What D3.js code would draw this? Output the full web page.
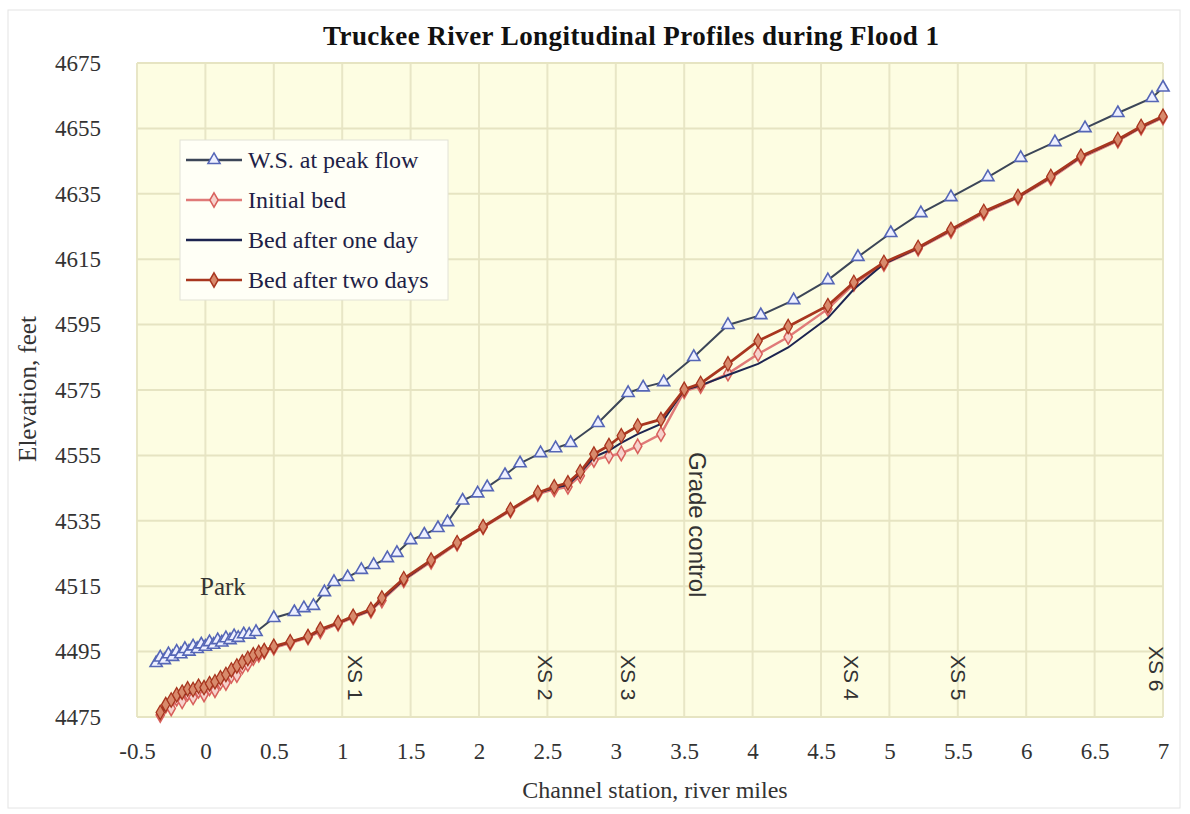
<html>
<head>
<meta charset="utf-8">
<script src="https://d3js.org/d3.v7.min.js"></script>
<style>
  body { margin: 0; background: #fff; }
  .tick text { font-family: "Liberation Serif", serif; font-size: 23px; fill: #333; }
</style>
</head>
<body>
<script>
// tick values
var xTicks = [-0.5, 0, 0.5, 1, 1.5, 2, 2.5, 3, 3.5, 4, 4.5, 5, 5.5, 6, 6.5, 7];
var yTicks = [4475, 4495, 4515, 4535, 4555, 4575, 4595, 4615, 4635, 4655, 4675];

// W.S. at peak flow
var wsStation = [-0.36,-0.33,-0.30,-0.27,-0.24,-0.21,-0.18,-0.15,-0.12,-0.09,-0.06,-0.03,0.00,0.03,0.06,0.09,0.12,0.15,0.18,0.21,0.24,0.28,0.32,0.37,
  0.50,0.65,0.72,0.79,0.87,0.94,1.04,1.14,1.23,1.33,1.40,1.50,1.60,1.70,1.77,1.88,1.99,2.06,2.19,2.30,
  2.45,2.56,2.67,2.87,3.09,3.20,3.35,3.57,3.82,4.06,4.30,4.55,4.77,5.01,5.23,5.45,5.72,5.96,6.21,6.43,
  6.67,6.92,7.00];
var wsElev = [4491.5,4493.2,4492.4,4494.2,4493.4,4495.0,4494.2,4495.8,4495.0,4496.6,4495.8,4497.2,4496.5,4497.9,4497.1,4498.5,4497.8,4499.1,4498.5,4499.7,4499.2,4500.3,4500.2,4501.0,
  4505.3,4507.1,4508.3,4509.0,4513.2,4516.3,4517.8,4520.0,4521.5,4523.6,4525.2,4529.1,4530.8,4532.8,4534.6,4541.2,4543.4,4545.3,4549.0,4552.6,
  4555.7,4557.2,4558.8,4564.9,4574.1,4575.8,4577.4,4585.1,4594.9,4597.9,4602.5,4608.6,4615.7,4623.0,4629.1,4634.0,4640.1,4646.0,4650.8,4655.1,
  4659.7,4664.3,4667.5];

// bed profiles share the same stations
var bedStation = [-0.33,-0.29,-0.25,-0.21,-0.17,-0.13,-0.09,-0.05,-0.01,0.03,0.07,0.11,0.15,0.19,0.23,0.27,0.31,0.35,0.39,0.43,
  0.50,0.62,0.75,0.84,0.97,1.08,1.21,1.29,1.45,1.65,1.84,2.03,2.23,2.43,2.55,2.65,2.74,2.84,2.95,
  3.04,3.16,3.33,3.50,3.62,3.82,4.04,4.26,4.55,4.74,4.96,5.21,5.45,5.69,5.94,6.18,6.40,6.67,6.84,7.00];
var initialBed = [4475.6,4478.4,4477.6,4480.6,4479.8,4482.2,4481.0,4483.0,4481.9,4483.8,4483.2,4485.6,4485.4,4487.6,4487.8,4490.4,4491.2,4493.0,4494.0,4495.0,
  4496.2,4497.6,4499.3,4501.2,4503.5,4505.4,4507.5,4510.6,4516.8,4522.5,4528.0,4533.0,4538.1,4543.2,4544.6,4545.4,4548.8,4553.6,4554.8,
  4555.6,4557.8,4561.5,4574.6,4576.2,4580.0,4586.0,4591.2,4599.8,4607.4,4613.5,4618.2,4623.6,4629.1,4633.8,4639.8,4646.0,4651.2,4655.2,4658.3];
var bedOneDay = [4476.0,4477.8,4479.4,4480.6,4481.6,4482.2,4482.8,4483.2,4483.6,4484.2,4485.0,4486.2,4487.2,4488.6,4489.8,4491.2,4492.4,4493.6,4494.4,4495.1,
  4496.4,4497.9,4499.5,4501.6,4503.7,4505.6,4507.7,4511.0,4517.0,4522.8,4528.2,4533.1,4538.3,4543.5,4545.0,4546.0,4549.6,4554.5,4556.5,
  4558.8,4561.5,4564.6,4575.0,4576.4,4579.6,4583.0,4588.0,4597.0,4605.8,4613.6,4618.4,4623.9,4629.4,4634.0,4640.1,4646.3,4651.4,4655.4,4658.5];
var bedTwoDays = [4476.4,4478.8,4480.2,4481.8,4482.6,4483.6,4483.4,4484.4,4484.0,4485.2,4485.8,4487.0,4488.0,4489.4,4490.6,4491.8,4492.9,4494.0,4494.7,4495.3,
  4496.6,4498.0,4499.6,4501.8,4503.8,4505.8,4507.9,4511.4,4517.3,4523.0,4528.3,4533.2,4538.4,4543.6,4545.4,4546.6,4550.0,4555.4,4558.0,
  4561.0,4564.0,4566.0,4575.2,4577.0,4583.0,4590.0,4594.4,4600.8,4607.9,4614.0,4618.6,4624.1,4629.6,4634.2,4640.3,4646.5,4651.6,4655.6,4658.7];

// cross section labels
var xsNames = ["XS 1", "XS 2", "XS 3", "XS 4", "XS 5", "XS 6"];
var xsStation = [1.09, 2.48, 3.09, 4.72, 5.50, 6.95];

var width = 1190, height = 814;
var plotLeft = 137, plotRight = 1163, plotTop = 63, plotBottom = 717;

var svg = d3.select("body").append("svg")
  .attr("width", width)
  .attr("height", height);

svg.append("rect")
  .attr("x", 8).attr("y", 10).attr("width", 1172).attr("height", 798)
  .attr("fill", "#fff").attr("stroke", "#e4e4e4");

var x = d3.scaleLinear().domain([-0.5, 7]).range([plotLeft, plotRight]);
var y = d3.scaleLinear().domain([4475, 4675]).range([plotBottom, plotTop]);

// plot area
svg.append("rect")
  .attr("x", plotLeft).attr("y", plotTop)
  .attr("width", plotRight - plotLeft).attr("height", plotBottom - plotTop)
  .attr("fill", "#fdfde2");

svg.append("g").selectAll("line")
  .data(xTicks)
  .enter().append("line")
  .attr("x1", d => x(d)).attr("x2", d => x(d))
  .attr("y1", plotTop).attr("y2", plotBottom)
  .attr("stroke", "#e8e6c6").attr("stroke-width", 2);

svg.append("g").selectAll("line")
  .data(yTicks)
  .enter().append("line")
  .attr("x1", plotLeft).attr("x2", plotRight)
  .attr("y1", d => y(d)).attr("y2", d => y(d))
  .attr("stroke", "#e6e4c2").attr("stroke-width", 2);

// axes
var xAxis = svg.append("g")
  .attr("transform", "translate(0," + plotBottom + ")")
  .call(d3.axisBottom(x).tickValues(xTicks).tickSize(0).tickPadding(26).tickFormat(d => String(d)));
xAxis.select(".domain").remove();

var yAxis = svg.append("g")
  .attr("transform", "translate(" + plotLeft + ",0)")
  .call(d3.axisLeft(y).tickValues(yTicks).tickSize(0).tickPadding(36).tickFormat(d => String(d)));
yAxis.select(".domain").remove();

// titles
svg.append("text")
  .attr("x", 631).attr("y", 45)
  .attr("text-anchor", "middle")
  .attr("textLength", 616)
  .style("font-family", "Liberation Serif, serif")
  .style("font-weight", "bold")
  .style("font-size", "27px")
  .attr("fill", "#111")
  .text("Truckee River Longitudinal Profiles during Flood 1");

svg.append("text")
  .attr("x", 655).attr("y", 798)
  .attr("text-anchor", "middle")
  .style("font-family", "Liberation Serif, serif")
  .style("font-size", "24px")
  .attr("fill", "#333")
  .text("Channel station, river miles");

svg.append("text")
  .attr("transform", "translate(36,389) rotate(-90)")
  .attr("text-anchor", "middle")
  .style("font-family", "Liberation Serif, serif")
  .style("font-size", "25px")
  .attr("fill", "#333")
  .text("Elevation, feet");

// lines
function pts(st, el) { return st.map((s, i) => [s, el[i]]); }
var line = d3.line().x(d => x(d[0])).y(d => y(d[1]));

var ws = pts(wsStation, wsElev);
var ib = pts(bedStation, initialBed);
var b1 = pts(bedStation, bedOneDay);
var b2 = pts(bedStation, bedTwoDays);

var tri = d3.symbol().type(d3.symbolTriangle).size(64);
var dia = d3.symbol().type(d3.symbolDiamond).size(60);

svg.append("path").datum(ws).attr("d", line)
  .attr("fill", "none").attr("stroke", "#3c4658").attr("stroke-width", 2);
svg.append("g").selectAll("path").data(ws).enter().append("path")
  .attr("d", tri)
  .attr("transform", d => "translate(" + x(d[0]) + "," + y(d[1]) + ")")
  .attr("fill", "#eef0ff").attr("stroke", "#5566b6").attr("stroke-width", 1.6);

svg.append("path").datum(ib).attr("d", line)
  .attr("fill", "none").attr("stroke", "#e07a78").attr("stroke-width", 2.5);
svg.append("g").selectAll("path").data(ib).enter().append("path")
  .attr("d", dia)
  .attr("transform", d => "translate(" + x(d[0]) + "," + y(d[1]) + ")")
  .attr("fill", "#f6d2cc").attr("stroke", "#d8605c").attr("stroke-width", 1.5);

svg.append("path").datum(b1).attr("d", line)
  .attr("fill", "none").attr("stroke", "#1c2450").attr("stroke-width", 2);

svg.append("path").datum(b2).attr("d", line)
  .attr("fill", "none").attr("stroke", "#a8361f").attr("stroke-width", 2.8);
svg.append("g").selectAll("path").data(b2).enter().append("path")
  .attr("d", dia)
  .attr("transform", d => "translate(" + x(d[0]) + "," + y(d[1]) + ")")
  .attr("fill", "#d88a6c").attr("stroke", "#a8361f").attr("stroke-width", 1.3);

// annotations
svg.append("text")
  .attr("x", 200).attr("y", 595)
  .style("font-family", "Liberation Serif, serif")
  .style("font-size", "25px")
  .attr("fill", "#333")
  .text("Park");

svg.append("text")
  .attr("transform", "translate(689,452) rotate(90)")
  .style("font-family", "Liberation Sans, sans-serif")
  .style("font-size", "24px")
  .attr("fill", "#333")
  .text("Grade control");

svg.append("g").selectAll("text")
  .data(xsNames)
  .enter().append("text")
  .attr("transform", (d, i) => "translate(" + (x(xsStation[i]) - 7) + "," + (i == 5 ? 646 : 655) + ") rotate(90)")
  .style("font-family", "Liberation Sans, sans-serif")
  .style("font-size", "21px")
  .attr("fill", "#333")
  .text(d => d);

// legend
var legend = svg.append("g").attr("transform", "translate(180,140)");
legend.append("rect")
  .attr("width", 268).attr("height", 160)
  .attr("fill", "#fffff6").attr("stroke", "#e2e2d6");

var legendItems = [
  { name: "W.S. at peak flow", stroke: "#3c4658", sym: tri, fill: "#eef0ff", mstroke: "#5566b6" },
  { name: "Initial bed", stroke: "#e07a78", sym: dia, fill: "#f6d2cc", mstroke: "#d8605c" },
  { name: "Bed after one day", stroke: "#1c2450", sym: null },
  { name: "Bed after two days", stroke: "#a8361f", sym: dia, fill: "#d88a6c", mstroke: "#a8361f" }
];

legendItems.forEach(function(d, i) {
  var yy = 20 + i * 40;
  legend.append("line")
    .attr("x1", 6).attr("x2", 62).attr("y1", yy).attr("y2", yy)
    .attr("stroke", d.stroke).attr("stroke-width", 2.5);
  if (d.sym) {
    legend.append("path").attr("d", d.sym)
      .attr("transform", "translate(34," + yy + ")")
      .attr("fill", d.fill).attr("stroke", d.mstroke).attr("stroke-width", 1.5);
  }
  legend.append("text")
    .attr("x", 68).attr("y", yy + 8)
    .style("font-family", "Liberation Serif, serif")
    .style("font-size", "24px")
    .attr("fill", "#1e2246")
    .text(d.name);
});
</script>
</body>
</html>
